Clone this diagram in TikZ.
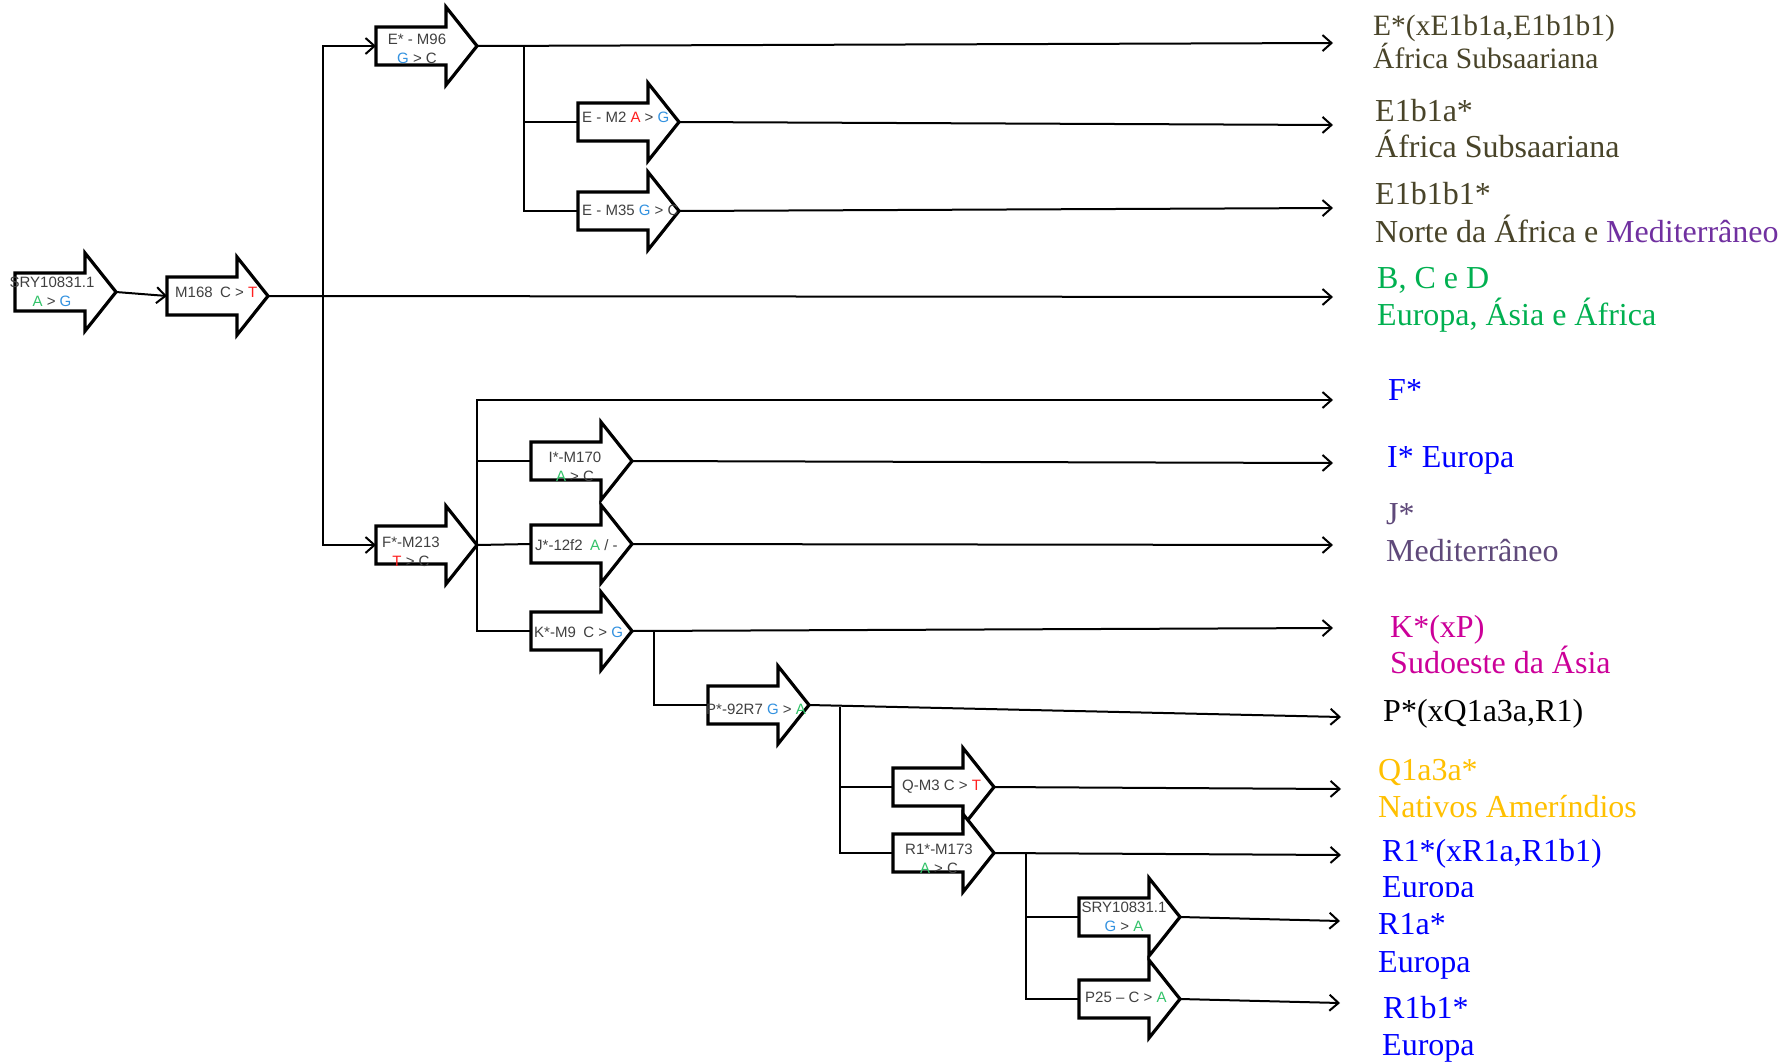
\documentclass[tikz,border=0pt]{standalone}
\usepackage{fontspec}
\setmainfont{Liberation Serif}
\newfontfamily\arialf{Liberation Sans}
\usetikzlibrary{arrows.meta}

\definecolor{txtE}{HTML}{494429}
\definecolor{purp}{HTML}{7030A0}
\definecolor{grn}{HTML}{00B050}
\definecolor{blu}{HTML}{0000FF}
\definecolor{jpurp}{HTML}{5F497A}
\definecolor{mag}{HTML}{CC0099}
\definecolor{gold}{HTML}{FFC000}
\definecolor{ntA}{HTML}{33C36A}
\definecolor{ntG}{HTML}{3392E0}
\definecolor{ntR}{HTML}{FF2020}
\definecolor{mgray}{HTML}{404040}

\newcommand\nA{\textcolor{ntA}{A}}
\newcommand\nG{\textcolor{ntG}{G}}
\newcommand\nT{\textcolor{ntR}{T}}
\newcommand\nAr{\textcolor{ntR}{A}}

% block arrow for a mutation: name, x, y (centre of the shaft)
\newcommand\mutbox[3]{%
  \node[mbody] (#1) at (#2,#3) {};
  \draw[mline] (#1.north west) -- (#1.north east) -- ([yshift=20pt]#1.north east)
    -- ([xshift=31pt]#1.east) -- ([yshift=-20pt]#1.south east) -- (#1.south east)
    -- (#1.south west) -- cycle;
  \coordinate (#1-tip) at ([xshift=31pt]#1.east);
}

\begin{document}
\begin{tikzpicture}[x=1pt,y=-1pt,
  mbody/.style={rectangle,minimum width=70pt,minimum height=38pt,inner sep=0pt,outer sep=0pt},
  mline/.style={draw=black,fill=white,line width=3.2pt,line join=miter},
  conn/.style={draw=black,line width=2pt},
  tip/.style={-{Straight Barb[length=9pt,width=16pt]}},
  mtxt/.style={inner sep=0pt,text=mgray,font=\arialf\fontsize{15pt}{19pt}\selectfont},
  mtxtw/.style={mtxt,anchor=west},
  mtxtc/.style={mtxt,align=center},
  lab/.style={anchor=base west,inner sep=0pt,font=\fontsize{32pt}{37pt}\selectfont},
  labs/.style={anchor=base west,inner sep=0pt,font=\fontsize{29.5pt}{34pt}\selectfont}]

\useasboundingbox[fill=white] (0,0) rectangle (1789,1063);

% end points of the branches
\coordinate (eE)   at (1333,43);
\coordinate (eE2)  at (1333,125);
\coordinate (eE3)  at (1333,208);
\coordinate (eBCD) at (1333,297);
\coordinate (eF)   at (1333,400);
\coordinate (eI)   at (1333,463);
\coordinate (eJ)   at (1333,545);
\coordinate (eK)   at (1333,628);
\coordinate (eP)   at (1341,717);
\coordinate (eQ)   at (1341,789);
\coordinate (eR1)  at (1341,855);
\coordinate (eR1a) at (1340,921);
\coordinate (eR1b) at (1340,1003);

% branching points
\coordinate (s1) at (323,297);
\coordinate (s2) at (524,46);
\coordinate (s4) at (654,631);
\coordinate (s5) at (840,707);
\coordinate (s6) at (1026,853);

% mutation arrows
\mutbox{sry}{50}{292}
\mutbox{m168}{202}{296}
\mutbox{em96}{411}{46}
\mutbox{em2}{613}{122}
\mutbox{em35}{613}{211}
\mutbox{fm213}{411}{545}
\mutbox{im170}{566}{461}
\mutbox{j12f2}{566}{544}
\mutbox{km9}{566}{631}
\mutbox{p92}{743}{705}
\mutbox{qm3}{928}{787}
\mutbox{r1m173}{928}{853}
\mutbox{srytwo}{1114}{917}
\mutbox{p25}{1114}{999}

\coordinate (s3) at (fm213-tip);

% connectors
\draw[conn,tip] (sry-tip) -- (m168.west);
\draw[conn,tip] (m168-tip) -- (eBCD);
\draw[conn,tip] (s1) |- (em96.west);
\draw[conn,tip] (s1) |- (fm213.west);

\draw[conn,tip] (em96-tip) -- (eE);
\draw[conn] (s2) |- (em2.west);
\draw[conn] (s2) |- (em35.west);
\draw[conn,tip] (em2-tip) -- (eE2);
\draw[conn,tip] (em35-tip) -- (eE3);

\draw[conn,tip] (s3) |- (eF);
\draw[conn] (s3) |- (im170.west);
\draw[conn] (s3) -- (j12f2.west);
\draw[conn] (s3) |- (km9.west);
\draw[conn,tip] (im170-tip) -- (eI);
\draw[conn,tip] (j12f2-tip) -- (eJ);
\draw[conn,tip] (km9-tip) -- (eK);

\draw[conn] (s4) |- (p92.west);
\draw[conn,tip] (p92-tip) -- (eP);
\draw[conn] (s5) |- (qm3.west);
\draw[conn] (s5) |- (r1m173.west);
\draw[conn,tip] (qm3-tip) -- (eQ);
\draw[conn,tip] (r1m173-tip) -- (eR1);
\draw[conn] (s6) |- (srytwo.west);
\draw[conn] (s6) |- (p25.west);
\draw[conn,tip] (srytwo-tip) -- (eR1a);
\draw[conn,tip] (p25-tip) -- (eR1b);

% mutation labels
\node[mtxtc] (sry-t) at (52,292) {SRY10831.1\\\nA{} > \nG};
\node[mtxtw] (m168-t) at (175,292) {M168\enspace C > \nT};
\node[mtxtc] (em96-t) at (417,49) {E* - M96\\\nG{} > C};
\node[mtxtw] (em2-t) at (582,117) {E - M2 \nAr{} > \nG};
\node[mtxtw] (em35-t) at (582,210) {E - M35 \nG{} > C};
\node[mtxtc] (fm213-t) at (411,552) {F*-M213\\\nT{} > C};
\node[mtxtc] (im170-t) at (575,467) {I*-M170\\\nA{} > C};
\node[mtxtw] (j12f2-t) at (535,545) {J*-12f2\enspace \nA{} / -};
\node[mtxtw] (km9-t) at (534,632) {K*-M9\enspace C > \nG};
\node[mtxtw] (p92-t) at (706,709) {P*-92R7 \nG{} > \nA};
\node[mtxtw] (qm3-t) at (902,787) {Q-M3 C > \nT};
\node[mtxtc] (r1m173-t) at (939,859) {R1*-M173\\\nA{} > C};
\node[mtxtc] (srytwo-t) at (1124,917) {SRY10831.1\\\nG{} > \nA};
\node[mtxtw] (p25-t) at (1085,997) {P25 – C > \nA};

% haplogroups and regions
\node[labs,text=txtE] (l1a) at (1373,35) {E*(xE1b1a,E1b1b1)};
\node[labs,text=txtE] (l1b) at (1373,68) {África Subsaariana};
\node[lab,text=txtE] (l2a) at (1375,121) {E1b1a*};
\node[lab,text=txtE] (l2b) at (1375,157) {África Subsaariana};
\node[lab,text=txtE] (l3a) at (1375,204) {E1b1b1*};
\node[lab,text=txtE] (l3b) at (1375,242) {Norte da África e \textcolor{purp}{Mediterrâneo}};
\node[lab,text=grn] (l4a) at (1377,288) {B, C e D};
\node[lab,text=grn] (l4b) at (1377,325) {Europa, Ásia e África};
\node[lab,text=blu] (l5) at (1388,400) {F*};
\node[lab,text=blu] (l6) at (1387,467) {I* Europa};
\node[lab,text=jpurp] (l7a) at (1386,524) {J*};
\node[lab,text=jpurp] (l7b) at (1386,561) {Mediterrâneo};
\node[lab,text=mag] (l8a) at (1390,637) {K*(xP)};
\node[lab,text=mag] (l8b) at (1390,673) {Sudoeste da Ásia};
\node[lab,text=black] (l9) at (1383,721) {P*(xQ1a3a,R1)};
\node[lab,text=gold] (l10a) at (1378,780) {Q1a3a*};
\node[lab,text=gold] (l10b) at (1378,817) {Nativos Ameríndios};
\node[lab,text=blu] (l11a) at (1382,861) {R1*(xR1a,R1b1)};
\begin{scope}
  \clip (1370,865) rectangle (1560,896);
  \node[lab,text=blu] (l11b) at (1382,897) {Europa};
\end{scope}
\node[lab,text=blu] (l12a) at (1378,934) {R1a*};
\node[lab,text=blu] (l12b) at (1378,972) {Europa};
\node[lab,text=blu] (l13a) at (1383,1018) {R1b1*};
\node[lab,text=blu] (l13b) at (1382,1055) {Europa};

\end{tikzpicture}
\end{document}
